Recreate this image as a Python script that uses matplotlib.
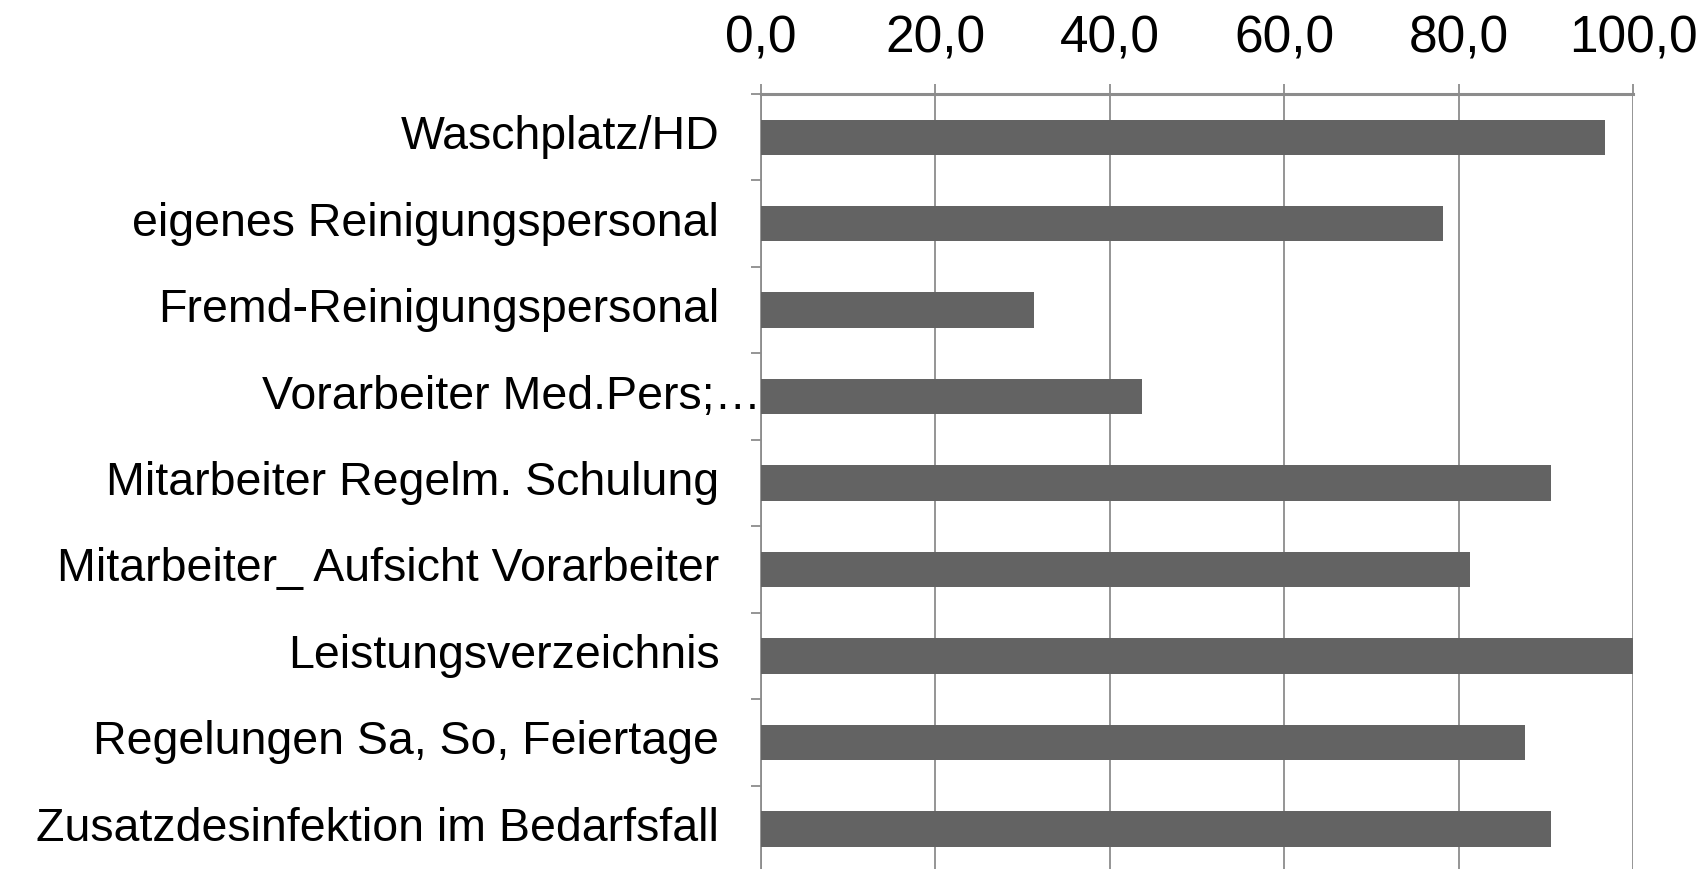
import numpy as np
import matplotlib.pyplot as plt

categories = [
    "Waschplatz/HD",
    "eigenes Reinigungspersonal",
    "Fremd-Reinigungspersonal",
    "Vorarbeiter Med.Pers;…",
    "Mitarbeiter Regelm. Schulung",
    "Mitarbeiter_ Aufsicht Vorarbeiter",
    "Leistungsverzeichnis",
    "Regelungen Sa, So, Feiertage",
    "Zusatzdesinfektion im Bedarfsfall",
]
values = [96.8, 78.2, 31.3, 43.7, 90.6, 81.3, 100.0, 87.6, 90.6]
xticks = [0, 20, 40, 60, 80, 100]
xtick_labels = ["0,0", "20,0", "40,0", "60,0", "80,0", "100,0"]

plt.rcParams['font.family'] = ['Liberation Sans', 'DejaVu Sans']

fig = plt.figure(figsize=(17.05, 8.69), dpi=100)
ax = fig.add_axes([0.4463, -0.0035, 0.5115, 0.8953])

y = np.arange(len(categories))
ax.barh(y, values, height=0.41, color='#636363', zorder=3)

ax.set_xlim(0, 100)
ax.set_ylim(len(categories) - 0.5, -0.5)

grey = '#8c8c8c'
ax.xaxis.tick_top()
ax.set_xticks(xticks)
ax.set_xticklabels(xtick_labels, fontsize=37)
ax.tick_params(axis='x', which='major', direction='out', length=7, width=1.3,
               color=grey, pad=15)
ax.grid(axis='x', color=grey, linewidth=1.3, zorder=0)

# y tick marks at category boundaries, labels drawn separately
ax.set_yticks(np.arange(-0.5, len(categories) + 0.5, 1))
ax.set_yticklabels([])
ax.tick_params(axis='y', direction='out', length=7, width=1.3, color=grey)

for i, name in enumerate(categories):
    pad = 0 if name.endswith("…") else -30
    ax.annotate(name, xy=(0, i), xycoords=('axes fraction', 'data'),
                xytext=(pad, 0), textcoords='offset points',
                ha='right', va='center', fontsize=33.5, color='black')

for side in ['right', 'bottom']:
    ax.spines[side].set_visible(False)
ax.spines['top'].set_color(grey)
ax.spines['top'].set_linewidth(2.2)
ax.spines['left'].set_color(grey)
ax.spines['left'].set_linewidth(1.3)

fig.savefig('out.png', dpi=100)
